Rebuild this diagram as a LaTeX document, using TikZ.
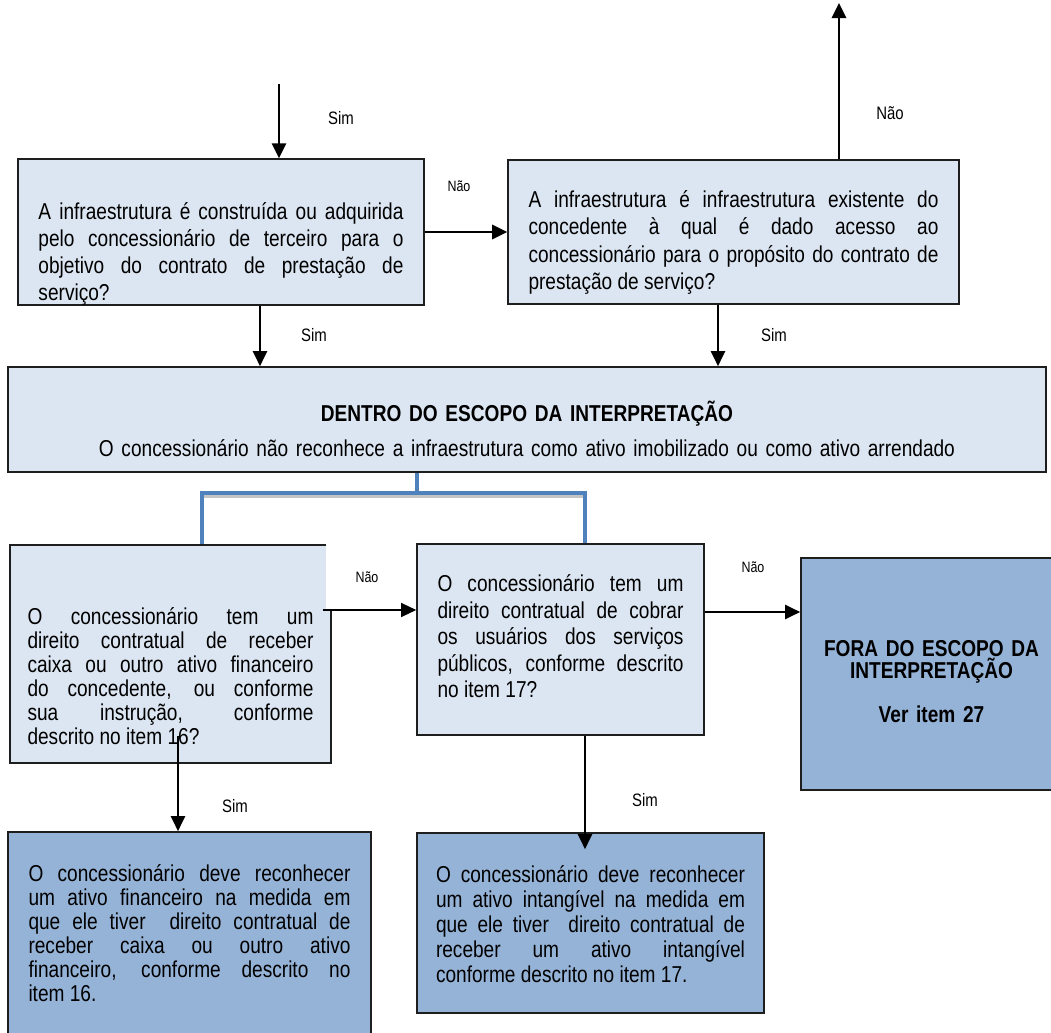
\documentclass[tikz,border=0pt]{standalone}
\usepackage{fontspec}
\setmainfont{Liberation Sans}[FakeStretch=0.83]
\usepackage{tikz}
\usetikzlibrary{arrows.meta,positioning,calc}
\definecolor{boxpale}{HTML}{DCE6F2}
\definecolor{boxdeep}{HTML}{95B3D7}
\definecolor{treeblue}{HTML}{4F81BD}
\definecolor{shadegrey}{HTML}{C4C4C4}
\definecolor{inkline}{HTML}{1E1E1E}
\setlength{\parindent}{0pt}
\hbadness=10000 \tolerance=10000 \hyphenpenalty=10000 \exhyphenpenalty=10000
\tikzset{
  qbox/.style     = {draw=inkline, line width=0.8pt, fill=boxpale, inner sep=0pt,
                     align=justify, font=\fontsize{11.5}{13.5}\selectfont},
  rbox/.style     = {qbox, fill=boxdeep},
  flow/.style     = {-{Triangle[length=7.5pt,width=7pt]}, draw=black, line width=1pt},
  flowthick/.style= {flow, line width=1.4pt},
  flowthin/.style = {flow, line width=0.6pt},
  tag/.style      = {inner sep=0pt, font=\fontsize{9}{11}\selectfont},
  tagsmall/.style = {inner sep=0pt, font=\fontsize{7.5}{9}\selectfont},
  tree/.style     = {draw=treeblue, line width=2pt},
  treeshade/.style= {draw=shadegrey, line width=1.5pt},
}
\begin{document}
\begin{tikzpicture}[x=0.5pt,y=-0.5pt]
    \useasboundingbox (0,0) rectangle (1051,1033);
    % questions
    \node[qbox,minimum width=203pt,minimum height=72pt,text width=182.5pt,text height=30pt] (b1) at (221,232)
      {A infraestrutura é construída ou adquirida\linebreak pelo concessionário de terceiro para o\linebreak objetivo do contrato de prestação de\linebreak serviço?};
    \node[qbox,minimum width=225.5pt,minimum height=72pt,text width=205pt,text height=18.75pt,font=\fontsize{11.5}{13.75}\selectfont] (b2) at (733.5,232)
      {A infraestrutura é infraestrutura existente do\linebreak concedente à qual é dado acesso ao\linebreak concessionário para o propósito do contrato de\linebreak prestação de serviço?};
    \node[qbox,align=center,minimum width=519pt,minimum height=52.5pt,text width=500pt,text height=19.75pt,font=\fontsize{11.5}{17.75}\selectfont] (bm) at (527,419.5)
      {\textbf{DENTRO DO ESCOPO DA INTERPRETAÇÃO}\\O concessionário não reconhece a infraestrutura como ativo imobilizado ou como ativo arrendado};
    \node[qbox,minimum width=160.5pt,minimum height=109pt,text width=143pt,text height=31pt,font=\fontsize{11.5}{12}\selectfont] (b3) at (170.5,654)
      {O concessionário tem um\linebreak direito contratual de receber\linebreak caixa ou outro ativo financeiro\linebreak do concedente, ou conforme\linebreak sua instrução, conforme\linebreak descrito no item 16?};
    \fill[white] ($(b3.north east)+(-6,-3)$) rectangle ($(b3.east)+(3,-44)$);
    \node[qbox,minimum width=143.5pt,minimum height=95.5pt,text width=123pt,text height=5.5pt,font=\fontsize{11.5}{13.25}\selectfont] (b4) at (560.5,639.5)
      {O concessionário tem um\linebreak direito contratual de cobrar\linebreak os usuários dos serviços\linebreak públicos, conforme descrito\linebreak no item 17?};
    % outcomes
    \node[rbox,align=center,minimum width=130.5pt,minimum height=116pt,text width=120pt,text height=15.5pt,font=\bfseries\fontsize{11.5}{11}\selectfont] (b5) at (931.5,674)
      {FORA DO ESCOPO DA\\INTERPRETAÇÃO\\[11pt]Ver item 27};
    \node[rbox,minimum width=181.5pt,minimum height=104pt,text width=161pt,text height=6pt,font=\fontsize{11.5}{12}\selectfont] (b6) at (189.5,936)
      {O concessionário deve reconhecer\linebreak um ativo financeiro na medida em\linebreak que ele tiver~ direito contratual de\linebreak receber caixa ou outro ativo\linebreak financeiro, conforme descrito no\linebreak item 16.};
    \node[rbox,minimum width=173.5pt,minimum height=90pt,text width=154.5pt,text height=10pt,font=\fontsize{11.5}{12.5}\selectfont] (b7) at (590.5,923)
      {O concessionário deve reconhecer\linebreak um ativo intangível na medida em\linebreak que ele tiver~ direito contratual de\linebreak receber um ativo intangível\linebreak conforme descrito no item 17.};
    % connectors
    \coordinate (entry) at (279,84);
    \coordinate (exit) at (839,3);
    \draw[flowthick] (entry) -- (entry |- b1.north);
    \draw[flowthick] (b1.east) -- (b2.west);
    \draw[flowthick] (exit |- b2.north) -- (exit);
    \coordinate (d1) at ($(b1.south)+(39,0)$);
    \coordinate (d2) at ($(b2.south)+(-15.5,0)$);
    \draw[flow] (d1) -- (d1 |- bm.north);
    \draw[flow] (d2) -- (d2 |- bm.north);
    \coordinate (root) at ($(bm.south)+(-110,0)$);
    \coordinate (fork) at ($(root)+(0,20)$);
    \coordinate (leafl) at ($(b3.north)+(31.5,0)$);
    \coordinate (leafr) at ($(b4.north)+(24.5,0)$);
    \draw[treeshade] ($(fork -| leafl)+(2,4)$) -- ($(fork -| leafr)+(-2,4)$);
    \draw[tree] (root) -- (fork) -| (leafl);
    \draw[tree] (fork) -| (leafr);
    \coordinate (n1) at ($(b3.east)+(-9,-44)$);
    \coordinate (n2) at ($(b4.east)+(0,-27.5)$);
    \draw[flowthin] (n1) -- (n1 -| b4.west);
    \draw[flow] (n2) -- (n2 -| b5.west);
    \coordinate (s1) at ($(b3.south)+(7.5,-28)$);
    \coordinate (s2) at ($(b4.south)+(24.5,0)$);
    \draw[flow] (s1) -- (s1 |- b6.north);
    \draw[flow] (s2) -- ($(s2 |- b7.north)+(0,17)$);
    % labels
    \node[tag] (sim0) at (341,118) {Sim};
    \node[tagsmall] (nao1) at (459,186) {Não};
    \node[tag] (nao2) at (890,113) {Não};
    \node[tag] (sim1) at (314,335) {Sim};
    \node[tag] (sim2) at (774,335) {Sim};
    \node[tagsmall] (nao3) at (367,577) {Não};
    \node[tagsmall] (nao4) at (753,567) {Não};
    \node[tag] (sim3) at (235,806) {Sim};
    \node[tag] (sim4) at (645,800) {Sim};
  \end{tikzpicture}
\end{document}
